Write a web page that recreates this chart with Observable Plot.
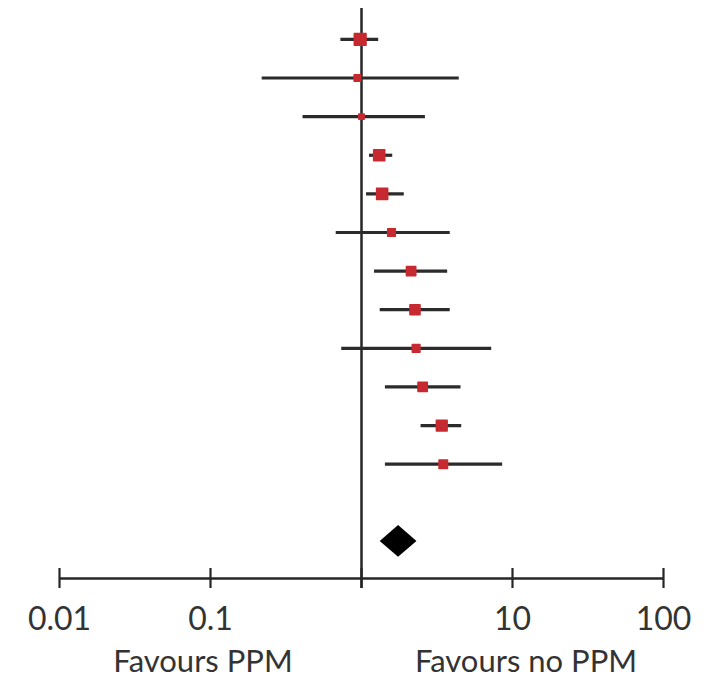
<!DOCTYPE html>
<html>
<head>
<meta charset="utf-8">
<script src="https://cdn.jsdelivr.net/npm/d3@7"></script>
<script src="https://cdn.jsdelivr.net/npm/@observablehq/plot@0.6"></script>
<style>
  html, body { margin: 0; padding: 0; background: #fff; }
  #wrap { position: relative; width: 707px; height: 681px; font-family: Lato, "Open Sans", sans-serif; }
  .side { position: absolute; top: 645px; font-size: 31px; color: #333; white-space: nowrap; transform: translateX(-50%); line-height: 31px; }
</style>
</head>
<body>
<div id="wrap"></div>
<script>
// Study-level odds ratios with 95% confidence intervals, top to bottom
const studyIndex = [0, 1, 2, 3, 4, 5, 6, 7, 8, 9, 10, 11];
const estimate = [0.98, 0.94, 1.0, 1.31, 1.37, 1.58, 2.13, 2.26, 2.30, 2.54, 3.40, 3.48];
const lower    = [0.73, 0.22, 0.41, 1.13, 1.08, 0.68, 1.22, 1.33, 0.74, 1.44, 2.48, 1.44];
const upper    = [1.30, 4.44, 2.65, 1.61, 1.92, 3.87, 3.72, 3.87, 7.28, 4.56, 4.61, 8.61];
const weight   = [9.5, 3.0, 2.0, 8.5, 8.5, 4.0, 6.0, 7.0, 4.0, 6.0, 8.0, 5.0];

// Pooled estimate (drawn as a diamond two rows below the last study)
const pooledRow = 13;
const pooledEstimate = 1.76;
const pooledLower = 1.33;
const pooledUpper = 2.33;

// Axis ticks
const tickValues = [0.01, 0.1, 1, 10, 100];
const tickLabels = ["0.01", "0.1", "", "10", "100"];
const sideLabels = ["Favours PPM", "Favours no PPM"];

const studies = studyIndex.map((row, i) => ({
  row, est: estimate[i], lo: lower[i], hi: upper[i], w: weight[i]
}));
const ticks = tickValues.map((v, i) => ({v, label: tickLabels[i]}));

// Diamond outline: top and bottom points at the estimate, left/right tips at the CI
const diamondHalf = 0.41;
const diamond = [
  {y: pooledRow - diamondHalf, x1: pooledEstimate, x2: pooledEstimate},
  {y: pooledRow, x1: pooledLower, x2: pooledUpper},
  {y: pooledRow + diamondHalf, x1: pooledEstimate, x2: pooledEstimate}
];

const yTop = -0.8;   // top end of the line of no effect
const yBase = 13.96; // row position of the horizontal axis

const ink = "#262626";

const chart = Plot.plot({
  width: 707,
  height: 640,
  marginLeft: 59,
  marginRight: 44,
  marginTop: 8,
  marginBottom: 62,
  x: {type: "log", domain: [0.01, 100], axis: null},
  y: {type: "linear", domain: [yTop, yBase], reverse: true, axis: null},
  r: {type: "sqrt", domain: [0, 10], range: [0, 6.8]},
  marks: [
    // horizontal axis line and ticks crossing it
    Plot.ruleY([yBase], {x1: 0.01, x2: 100, stroke: ink, strokeWidth: 2.5}),
    Plot.ruleX(ticks, {x: "v", y1: yBase, y2: yBase, insetTop: -10, insetBottom: -10, stroke: ink, strokeWidth: 2.2}),
    Plot.text(ticks, {x: "v", y: yBase, text: "label", dy: 41, fontSize: 32, fill: "#333", fontFamily: "Lato, 'Open Sans', sans-serif"}),
    // line of no effect
    Plot.ruleX([1], {y1: yTop, y2: yBase, insetBottom: -10, stroke: ink, strokeWidth: 2.5}),
    // confidence intervals
    Plot.ruleY(studies, {y: "row", x1: "lo", x2: "hi", stroke: "#2b2b2b", strokeWidth: 3.2}),
    // point estimates sized by weight
    Plot.dot(studies, {x: "est", y: "row", r: "w", symbol: "square", fill: "#c62a30", stroke: "#c62a30", strokeWidth: 1.5, strokeLinejoin: "round"}),
    // pooled diamond
    Plot.areaX(diamond, {y: "y", x1: "x1", x2: "x2", fill: "#000", curve: "linear"})
  ]
});

const wrap = document.getElementById("wrap");
wrap.appendChild(chart);
const centers = [203, 526];
sideLabels.forEach((t, i) => {
  const d = document.createElement("div");
  d.className = "side";
  d.style.left = centers[i] + "px";
  d.textContent = t;
  wrap.appendChild(d);
});
</script>
</body>
</html>
